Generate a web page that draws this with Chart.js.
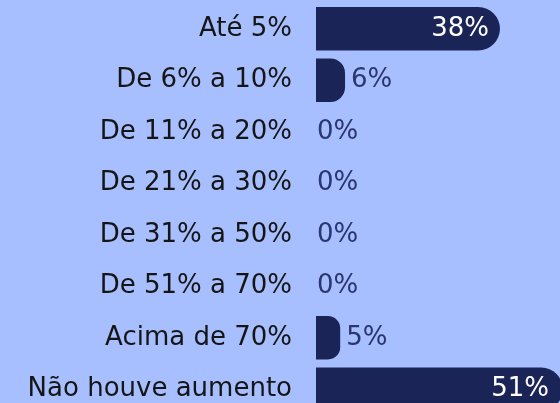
<!DOCTYPE html>
<html>
<head>
<meta charset="utf-8">
<script src="https://cdn.jsdelivr.net/npm/chart.js@4"></script>
<style>
  html, body { margin: 0; padding: 0; background: #a8bfff; overflow: hidden; }
  #wrap { position: relative; width: 560px; height: 415px; }
</style>
</head>
<body>
<div id="wrap"><canvas id="grafico"></canvas></div>
<script>
var faixas = ["Até 5%", "De 6% a 10%", "De 11% a 20%", "De 21% a 30%", "De 31% a 50%", "De 51% a 70%", "Acima de 70%", "Não houve aumento"];
var percentuais = [38, 6, 0, 0, 0, 0, 5, 51];

var fonte = "'DejaVu Sans', sans-serif";

// rótulos de valor (dentro da barra quando grande, fora quando pequena)
var rotulosValor = {
    id: "rotulosValor",
    afterDatasetsDraw: function (chart) {
        var ctx = chart.ctx;
        var meta = chart.getDatasetMeta(0);
        ctx.save();
        ctx.font = "26px " + fonte;
        ctx.textBaseline = "middle";
        meta.data.forEach(function (bar, i) {
            var v = percentuais[i];
            var txt = v + "%";
            if (v >= 20) {
                ctx.fillStyle = "#ffffff";
                ctx.textAlign = "right";
                ctx.fillText(txt, Math.min(bar.x, chart.chartArea.right) - 11, bar.y);
            } else {
                ctx.fillStyle = "#2b3570";
                ctx.textAlign = "left";
                ctx.fillText(txt, bar.x + (v > 0 ? 6 : 1), bar.y);
            }
        });
        ctx.restore();
    }
};

var ctx = document.getElementById("grafico").getContext("2d");
new Chart(ctx, {
    type: "bar",
    data: {
        labels: faixas,
        datasets: [{
            data: percentuais,
            backgroundColor: "#1b2457",
            borderRadius: 22,
            borderSkipped: "start",
            barPercentage: 0.84,
            categoryPercentage: 1
        }]
    },
    options: {
        indexAxis: "y",
        responsive: true,
        maintainAspectRatio: false,
        animation: false,
        layout: { padding: { top: 3, right: 0, bottom: 0, left: 0 } },
        plugins: {
            legend: { display: false },
            tooltip: { enabled: false }
        },
        scales: {
            x: { display: false, min: 0, max: 50.4 },
            y: {
                grid: { display: false, drawTicks: false },
                border: { display: false },
                afterFit: function (scale) {
                    scale.width = 316;
                    scale.paddingTop = 0;
                    scale.paddingBottom = 0;
                },
                ticks: {
                    color: "#151515",
                    padding: 24,
                    font: { family: fonte, size: 26 }
                }
            }
        }
    },
    plugins: [rotulosValor]
});
</script>
</body>
</html>
